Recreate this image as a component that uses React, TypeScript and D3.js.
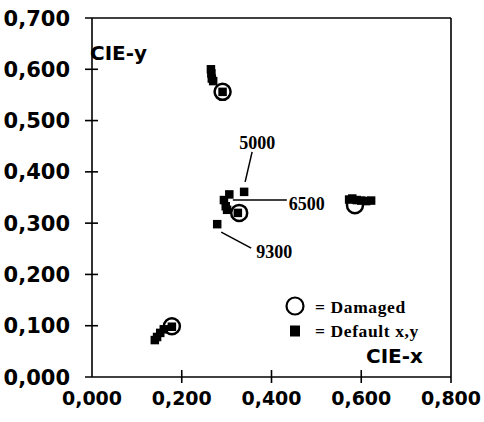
import React from "react";
import * as d3 from "d3";

// Default x,y chromaticity points (filled squares)
const defaultX = [
  0.265, 0.266, 0.267, 0.27, 0.291,
  0.306, 0.294, 0.298, 0.301, 0.325, 0.339, 0.279,
  0.573, 0.58, 0.59, 0.6, 0.611, 0.622,
  0.14, 0.145, 0.152, 0.16, 0.178,
];
const defaultY = [
  0.6, 0.592, 0.582, 0.577, 0.556,
  0.356, 0.345, 0.333, 0.326, 0.32, 0.361, 0.298,
  0.346, 0.348, 0.345, 0.344, 0.343, 0.344,
  0.072, 0.078, 0.086, 0.093, 0.098,
];

// Damaged points (open circles)
const damagedX = [0.291, 0.328, 0.586, 0.178];
const damagedY = [0.556, 0.32, 0.335, 0.099];

// Colour temperature callouts
const tempLabels = ["5000", "6500", "9300"];
const tempX = [0.339, 0.325, 0.279];
const tempY = [0.361, 0.345, 0.298];

const xTicks = [0, 0.2, 0.4, 0.6, 0.8];
const yTicks = [0, 0.1, 0.2, 0.3, 0.4, 0.5, 0.6, 0.7];

const fmt = (v: number) => d3.format(".3f")(v).replace(".", ",");

export default function App() {
  const width = 484;
  const height = 422;
  const margin = { top: 18, right: 33, bottom: 45, left: 92 };

  const x = d3.scaleLinear().domain([0, 0.8]).range([margin.left, width - margin.right]);
  const y = d3.scaleLinear().domain([0, 0.7]).range([height - margin.bottom, margin.top]);

  const x0 = x(0), x1 = x(0.8), y0 = y(0), y1 = y(0.7);
  const sans = "'DejaVu Sans', Arial, sans-serif";
  const serif = "'Liberation Serif', 'Times New Roman', serif";
  const sq = 8.5;

  // offsets of leader lines / labels from their anchor point, in pixels
  const callout = [
    { line: [[1, -10], [8, -40]], text: [13, -43], anchor: "middle" },
    { line: [[-5, 0], [49, 0]], text: [51, 10], anchor: "start" },
    { line: [[4, 8], [34, 24]], text: [39, 34], anchor: "start" },
  ];

  return (
    <svg
      width={width}
      height={height}
      style={{ position: "absolute", left: 0, top: 0, background: "#fff" }}
    >
      <g stroke="#000" strokeWidth={1.6} fill="none">
        {/* frame */}
        <line x1={x0} y1={y1} x2={x0} y2={y0} />
        <line x1={x0 - 7} y1={y0} x2={x1} y2={y0} />
        <line x1={x0 - 7} y1={y1} x2={x1} y2={y1} />
        <line x1={x1} y1={y1} x2={x1} y2={y0 + 6} />
        {yTicks.slice(1, -1).map((t) => (
          <line key={t} x1={x0 - 7} x2={x0 + 6} y1={y(t)} y2={y(t)} />
        ))}
        {xTicks.slice(1, -1).map((t) => (
          <line key={t} x1={x(t)} x2={x(t)} y1={y0 - 7} y2={y0 + 6} />
        ))}
      </g>

      {/* tick labels */}
      <g fontFamily={sans} fontWeight="bold" fill="#000">
        {yTicks.map((t) => (
          <text key={t} x={70} y={y(t)} dy="0.36em" textAnchor="end" fontSize={21}>
            {fmt(t)}
          </text>
        ))}
        {xTicks.map((t) => (
          <text key={t} x={x(t)} y={405} textAnchor="middle" fontSize={19}>
            {fmt(t)}
          </text>
        ))}
        <text x={90} y={60} fontSize={20}>CIE-y</text>
        <text x={366} y={363} fontSize={20}>CIE-x</text>
      </g>

      {/* callouts */}
      <g fontFamily={serif} fontWeight="bold" fontSize={18} fill="#000">
        {tempLabels.map((lab, i) => {
          const px = x(tempX[i]);
          const py = y(tempY[i]);
          const c = callout[i];
          return (
            <g key={lab}>
              <line
                x1={px + c.line[0][0]}
                y1={py + c.line[0][1]}
                x2={px + c.line[1][0]}
                y2={py + c.line[1][1]}
                stroke="#000"
                strokeWidth={1.5}
              />
              <text x={px + c.text[0]} y={py + c.text[1]} textAnchor={c.anchor as any}>
                {lab}
              </text>
            </g>
          );
        })}
      </g>

      {/* damaged circles */}
      <g fill="none" stroke="#000" strokeWidth={2.5}>
        {damagedX.map((dx, i) => (
          <circle key={i} cx={x(dx)} cy={y(damagedY[i])} r={8} />
        ))}
      </g>

      {/* default squares */}
      <g fill="#000">
        {defaultX.map((dx, i) => (
          <rect
            key={i}
            x={x(dx) - sq / 2}
            y={y(defaultY[i]) - sq / 2}
            width={sq}
            height={sq}
          />
        ))}
      </g>

      {/* legend */}
      <g>
        <circle cx={295} cy={306} r={8.5} fill="none" stroke="#000" strokeWidth={2.2} />
        <rect x={290} y={325.5} width={10} height={11} fill="#000" />
        <g fontFamily={serif} fontWeight="bold" fontSize={17.5} letterSpacing={0.6} fill="#000">
          <text x={315} y={313}>= Damaged</text>
          <text x={315} y={337}>= Default x,y</text>
        </g>
      </g>
    </svg>
  );
}
